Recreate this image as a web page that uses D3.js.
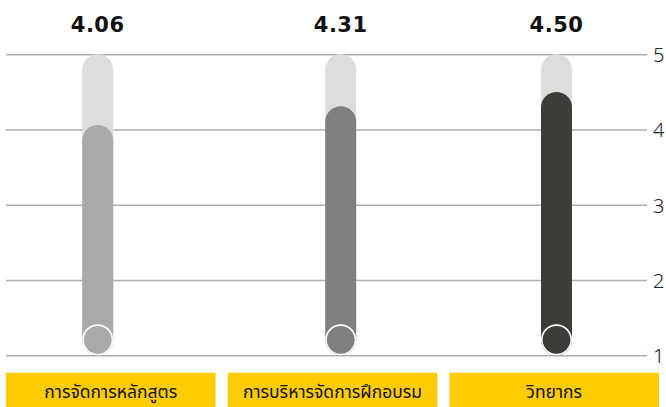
<!DOCTYPE html>
<html>
<head>
<meta charset="utf-8">
<script src="https://cdn.jsdelivr.net/npm/d3@7"></script>
<style>
  html, body { margin: 0; padding: 0; background: #fff; }
  svg { display: block; }
</style>
</head>
<body>
<svg id="chart" width="666" height="407"></svg>
<script>
// Average scores per topic (scale 1–5)
const categories = ["การจัดการหลักสูตร", "การบริหารจัดการฝึกอบรม", "วิทยากร"];
const scores = [4.06, 4.31, 4.50];
const barColors = ["#a9a9a9", "#808080", "#3d3c37"];
const yTicks = [1, 2, 3, 4, 5];

const W = 666, H = 407;
const plotLeft = 6, plotRight = 647;
const barWidth = 31;

const svg = d3.select("#chart");

const y = d3.scaleLinear().domain([1, 5]).range([355.3, 54.3]);

// bar centres along the track
const xBar = d3.scaleOrdinal().domain(categories).range([97.7, 340.7, 556.5]);

// label boxes underneath
const xBox = d3.scaleBand().domain(categories).range([6, 659]).paddingInner(0.055);

// gridlines + right-hand tick labels
const axis = d3.axisRight(y)
  .tickValues(yTicks)
  .tickFormat(d3.format("d"))
  .tickSize(-(plotRight - plotLeft))
  .tickPadding(6);

const gAxis = svg.append("g")
  .attr("transform", `translate(${plotRight},0)`)
  .call(axis);
gAxis.select(".domain").remove();
gAxis.selectAll(".tick line").attr("stroke", "#aeaeae").attr("stroke-width", 1.6);
gAxis.selectAll(".tick text")
  .attr("fill", "#222")
  .attr("font-family", "'Noto Sans', 'DejaVu Sans', sans-serif")
  .attr("font-weight", 300)
  .attr("font-size", 20)
  .attr("dy", "0.36em");

const rows = categories.map((c, i) => ({ c, v: scores[i], color: barColors[i] }));

const bars = svg.append("g").selectAll("g").data(rows).join("g");

// full-scale track
bars.append("rect")
  .attr("x", d => xBar(d.c) - barWidth / 2)
  .attr("width", barWidth)
  .attr("y", y(5))
  .attr("height", y(1) - y(5))
  .attr("rx", barWidth / 2)
  .attr("fill", "#dedddc");

// score bar
bars.append("rect")
  .attr("x", d => xBar(d.c) - barWidth / 2)
  .attr("width", barWidth)
  .attr("y", d => y(d.v))
  .attr("height", d => y(1) - y(d.v))
  .attr("rx", barWidth / 2)
  .attr("fill", d => d.color);

// knob at the base
bars.append("circle")
  .attr("cx", d => xBar(d.c))
  .attr("cy", y(1) - barWidth / 2)
  .attr("r", barWidth / 2 - 0.8)
  .attr("fill", d => d.color)
  .attr("stroke", "#fff")
  .attr("stroke-width", 1.6);

// value labels
bars.append("text")
  .attr("x", d => xBar(d.c))
  .attr("y", 32)
  .attr("text-anchor", "middle")
  .attr("font-family", "'DejaVu Sans', sans-serif")
  .attr("font-weight", "bold")
  .attr("font-size", 21)
  .attr("letter-spacing", 0.5)
  .attr("fill", "#111")
  .text(d => d.v.toFixed(2));

// category boxes
const boxes = svg.append("g").selectAll("g").data(categories).join("g");
boxes.append("rect")
  .attr("x", d => xBox(d))
  .attr("width", xBox.bandwidth())
  .attr("y", 372.7)
  .attr("height", H - 372.7)
  .attr("fill", "#ffcc00");
boxes.append("text")
  .attr("x", d => xBox(d) + xBox.bandwidth() / 2)
  .attr("y", 397.5)
  .attr("text-anchor", "middle")
  .attr("font-family", "'Noto Sans Thai', 'Noto Sans Thai UI', 'Noto Sans', sans-serif")
  .attr("font-size", 17.5)
  .attr("fill", "#111")
  .text(d => d);
</script>
</body>
</html>
